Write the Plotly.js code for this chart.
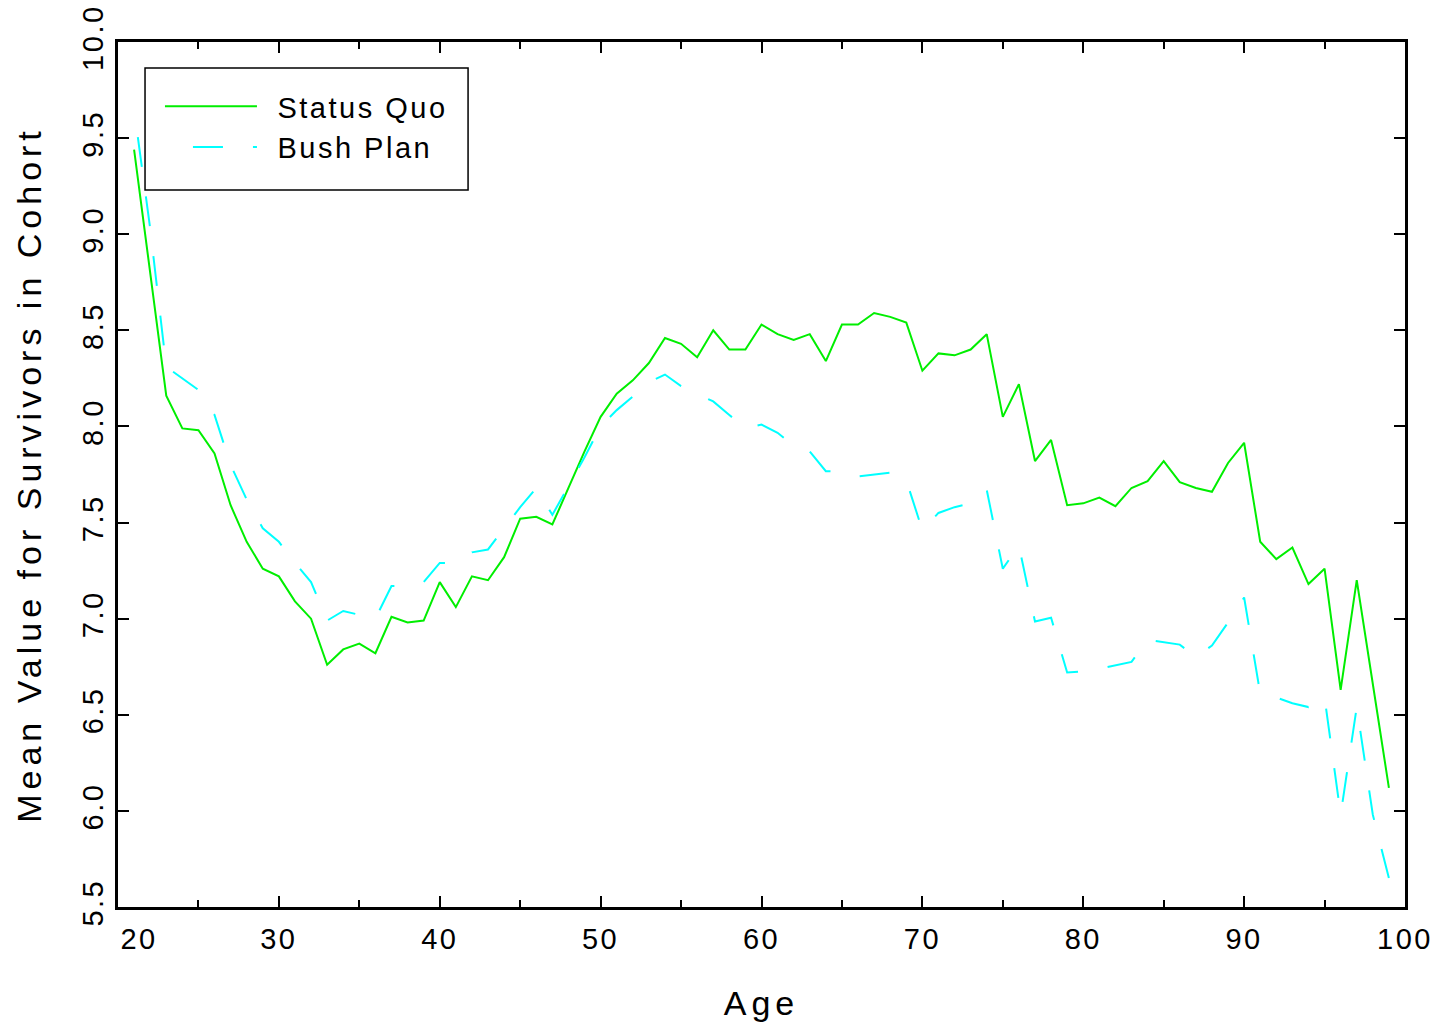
<!DOCTYPE html>
<html>
<head>
<meta charset="utf-8">
<script src="https://cdn.plot.ly/plotly-3.0.1.min.js"></script>
<style>
  html, body { margin: 0; padding: 0; background: #fff; }
  #chart { width: 1441px; height: 1027px; }
  .xtick text, .ytick text, text.legendtext { letter-spacing: 2.5px; }
  text.xtitle, text.ytitle { letter-spacing: 5px; }
</style>
</head>
<body>
<div id="chart"></div>
<script>
const ages = [21,22,23,24,25,26,27,28,29,30,31,32,33,34,35,36,37,38,39,40,
  41,42,43,44,45,46,47,48,49,50,51,52,53,54,55,56,57,58,59,60,
  61,62,63,64,65,66,67,68,69,70,71,72,73,74,75,76,77,78,79,80,
  81,82,83,84,85,86,87,88,89,90,91,92,93,94,95,96,97,98,99];

const statusQuo = [9.44,8.80,8.16,7.99,7.98,7.86,7.59,7.40,7.26,7.22,7.09,7.00,6.76,6.84,6.87,6.82,7.01,6.98,6.99,7.19,
  7.06,7.22,7.20,7.32,7.52,7.53,7.49,7.68,7.87,8.05,8.17,8.24,8.33,8.46,8.43,8.36,8.50,8.40,8.40,8.53,
  8.48,8.45,8.48,8.34,8.53,8.53,8.59,8.57,8.54,8.29,8.38,8.37,8.40,8.48,8.05,8.22,7.82,7.93,7.59,7.60,
  7.63,7.585,7.68,7.715,7.82,7.71,7.68,7.66,7.81,7.915,7.40,7.31,7.37,7.18,7.26,6.63,7.20,6.66,6.12];

const bushPlan = [9.65,9.03,8.31,8.25,8.19,8.06,7.80,7.62,7.47,7.40,7.29,7.19,6.99,7.04,7.02,7.00,7.17,7.17,7.19,7.29,
  7.29,7.345,7.36,7.47,7.58,7.68,7.54,7.69,7.84,8.00,8.085,8.155,8.23,8.27,8.21,8.17,8.13,8.06,7.99,8.01,
  7.967,7.90,7.87,7.767,7.767,7.74,7.75,7.76,7.72,7.46,7.55,7.58,7.60,7.67,7.26,7.38,6.985,7.005,6.72,6.725,
  6.74,6.757,6.775,6.89,6.877,6.865,6.80,6.86,6.98,7.11,6.61,6.59,6.56,6.54,6.59,5.98,6.54,5.98,5.65];

const seriesNames = ['Status Quo', 'Bush Plan'];

const xTickVals = [20,30,40,50,60,70,80,90,100];
const xTickText = ['\u00a0\u00a0\u00a0\u00a020','30','40','50','60','70','80','90','100'];

const font = 'Liberation Sans, Arial, sans-serif';
const pad = '\u00a0\u200a';

const traces = [
  {
    x: ages, y: statusQuo, type: 'scatter', mode: 'lines', name: pad + seriesNames[0],
    line: { color: '#00ee00', width: 2 }
  },
  {
    x: ages, y: bushPlan, type: 'scatter', mode: 'lines', name: pad + seriesNames[1],
    line: { color: '#00ffff', width: 2, dash: '0px,28px,30px,2px' }
  }
];

const layout = {
  width: 1441, height: 1027,
  margin: { l: 118, r: 36, t: 42, b: 120 },
  paper_bgcolor: '#ffffff', plot_bgcolor: '#ffffff',
  font: { family: font, color: '#000', size: 29 },
  showlegend: true,
  legend: {
    x: 0.0326, y: 0.955, xanchor: 'left', yanchor: 'top',
    bgcolor: 'rgba(0,0,0,0)', borderwidth: 0,
    font: { family: font, size: 29, color: '#000' },
    itemwidth: 92, tracegroupgap: 0
  },
  shapes: [
    { type: 'rect', xref: 'paper', yref: 'paper', x0: 0.021, x1: 0.272, y0: 0.829, y1: 0.970,
      line: { color: '#000', width: 1.5 }, fillcolor: 'rgba(0,0,0,0)', layer: 'above' }
  ],
  xaxis: {
    range: [20, 100], tickmode: 'array', tickvals: xTickVals, ticktext: xTickText,
    ticks: 'inside', ticklen: 11, tickwidth: 2, tickcolor: '#000',
    showline: true, linewidth: 3, linecolor: '#000', mirror: 'ticks',
    showgrid: false, zeroline: false, ticklabelstandoff: 4,
    tickfont: { family: font, size: 29, color: '#000' },
    minor: { tickmode: 'linear', tick0: 20, dtick: 5, ticks: 'inside', ticklen: 7, tickwidth: 2, tickcolor: '#000', showgrid: false },
    title: { text: 'Age', font: { family: font, size: 34, color: '#000' }, standoff: 38 }
  },
  yaxis: {
    range: [5.5, 10], tickmode: 'linear', tick0: 5.5, dtick: 0.5, tickformat: '.1f',
    tickangle: -90,
    ticks: 'inside', ticklen: 11, tickwidth: 2, tickcolor: '#000',
    showline: true, linewidth: 3, linecolor: '#000', mirror: 'ticks',
    showgrid: false, zeroline: false,
    tickfont: { family: font, size: 29, color: '#000' },
    title: { text: 'Mean Value for Survivors in Cohort', font: { family: font, size: 34, color: '#000' }, standoff: 26 }
  }
};

Plotly.newPlot('chart', traces, layout, { displayModeBar: false, staticPlot: true });
</script>
</body>
</html>
